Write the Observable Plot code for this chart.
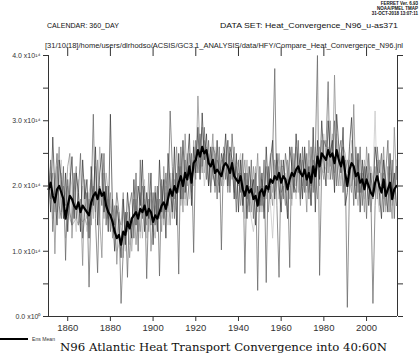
<!DOCTYPE html>
<html><head><meta charset="utf-8">
<script src="https://cdn.jsdelivr.net/npm/d3@7"></script>
<script src="https://cdn.jsdelivr.net/npm/@observablehq/plot@0.6"></script>
<style>html,body{margin:0;padding:0;background:#fff;} svg{display:block;}</style>
</head><body><div id="chart"></div>
<script>
// Years 1851..2014, values in units of 10^14 W
const startYear = 1851;

const ensMean = [
1.95,2.05,1.85,1.75,1.95,2.0,1.9,1.8,1.5,1.7,
1.85,1.8,1.7,1.65,1.75,1.6,1.7,1.65,1.6,1.55,
1.75,1.85,1.9,1.8,1.95,1.85,1.9,1.7,1.6,1.55,
1.45,1.3,1.2,1.25,1.1,1.3,1.25,1.45,1.35,1.5,
1.55,1.6,1.5,1.65,1.6,1.7,1.55,1.65,1.6,1.45,
1.55,1.5,1.6,1.7,1.75,1.65,1.8,1.95,1.85,2.0,
1.9,2.05,2.15,2.0,2.2,2.1,2.3,2.05,2.35,2.4,
2.55,2.45,2.6,2.5,2.55,2.35,2.3,2.4,2.2,2.25,
2.2,2.15,2.3,2.35,2.3,2.2,2.35,2.15,2.1,2.05,
2.15,1.95,1.85,2.0,1.9,1.95,1.8,1.85,1.7,1.9,
1.95,1.85,2.0,1.95,2.1,2.05,2.15,2.1,2.2,2.05,
2.15,2.1,1.95,2.1,2.2,2.15,2.25,2.3,2.2,2.15,
2.25,2.1,2.2,2.05,2.3,2.15,2.45,2.3,2.5,2.45,
2.4,2.55,2.45,2.5,2.35,2.55,2.4,2.3,2.45,2.2,
2.0,2.25,2.35,2.3,2.15,2.2,2.05,2.1,1.95,2.1,
2.0,1.9,1.85,2.05,2.15,2.0,1.9,2.1,1.85,1.95,
2.05,1.8,1.95,2.0];

const memberA = [
2.3,1.6,2.75,1.9,1.4,2.4,2.1,1.5,2.2,1.3,
2.0,2.45,1.5,2.2,1.9,1.3,2.4,1.8,2.1,1.2,
2.3,1.7,2.6,1.4,2.2,2.5,1.6,2.0,1.3,3.1,
1.6,1.0,1.7,1.4,0.9,1.8,1.1,1.9,1.5,1.2,
2.1,1.4,2.0,1.7,2.4,1.3,1.9,1.5,2.2,1.1,
1.9,1.3,2.4,1.6,2.1,1.2,2.5,2.0,1.6,2.6,
1.4,2.5,1.8,2.7,1.9,2.3,2.8,1.7,2.6,2.2,
2.9,2.1,3.12,2.4,2.8,2.0,2.6,2.2,2.0,2.7,
1.9,2.5,2.3,2.8,2.0,2.6,2.4,1.8,2.5,1.6,
2.4,1.7,2.2,1.5,2.3,1.9,2.1,1.4,2.0,1.7,
2.2,1.5,2.6,1.9,2.4,2.7,1.8,2.5,2.0,1.6,
2.4,2.0,1.5,2.6,2.3,1.9,2.8,2.2,2.5,1.8,
2.6,2.0,2.3,1.7,2.9,1.6,2.7,2.1,3.0,2.4,
2.0,3.0,2.5,2.7,1.9,3.1,2.6,2.2,2.9,1.7,
1.9,2.6,3.05,2.2,1.8,2.5,1.6,2.4,2.0,2.3,
1.7,2.2,1.8,2.6,2.3,1.9,1.5,2.4,2.0,1.6,
2.5,1.9,2.2,1.7];

const memberB = [
1.7,2.4,1.3,2.0,2.5,1.7,1.5,2.3,0.86,2.1,
1.6,1.4,2.2,1.5,1.9,2.5,1.2,1.6,1.9,0.45,
1.8,3.1,1.5,0.67,2.0,1.7,2.5,1.4,2.0,1.3,
1.8,1.4,1.9,1.6,0.2,1.0,1.6,0.6,1.7,1.9,
1.2,2.2,1.0,2.4,1.5,2.0,0.58,1.8,1.4,1.9,
1.4,2.0,0.62,2.1,1.5,2.2,1.7,3.15,2.3,1.5,
2.2,0.65,2.6,1.8,2.4,1.7,2.1,2.5,0.98,2.7,
2.2,2.8,2.3,2.9,2.1,2.7,1.9,2.6,2.5,1.8,
2.6,1.02,2.5,2.1,2.7,1.9,2.8,2.3,1.6,2.4,
1.9,2.5,0.66,2.2,1.6,2.4,1.5,2.2,0.4,2.3,
1.7,2.4,0.52,2.3,1.8,2.5,3.8,1.7,0.6,2.4,
1.8,2.5,2.2,0.75,2.6,2.0,1.9,2.7,1.8,2.6,
1.9,2.5,1.8,2.6,1.9,2.5,4.0,0.63,2.3,2.7,
2.6,3.6,2.1,2.4,3.0,2.0,2.5,2.7,1.9,2.4,
0.14,2.0,2.5,1.7,2.6,1.9,2.6,1.7,2.3,1.5,
2.5,1.9,0.2,1.7,2.6,2.2,2.5,1.6,2.2,2.7,
1.6,2.4,1.5,2.3];

const memberC = [
2.0,1.8,2.2,0.96,2.1,2.6,1.6,2.0,1.7,2.3,
2.5,1.2,1.9,2.3,1.4,1.8,0.78,2.1,1.5,1.8,
1.4,2.0,1.6,2.4,1.5,0.9,2.2,1.9,1.5,1.9,
1.2,1.7,0.8,1.5,1.4,1.9,1.2,1.6,0.9,1.4,
1.8,1.1,1.6,1.3,2.0,1.7,1.4,2.2,1.0,1.6,
2.0,1.5,1.8,1.3,2.3,1.6,1.9,1.4,2.2,1.8,
2.6,1.9,2.3,1.6,2.8,2.0,2.5,1.9,2.4,2.1,
3.38,2.5,2.2,2.7,2.4,2.0,2.3,2.8,1.9,2.4,
2.3,2.0,2.6,2.4,1.9,2.5,2.1,2.6,1.8,2.2,
1.7,2.1,2.4,1.8,2.0,1.6,2.3,1.9,2.5,1.6,
2.1,1.8,2.3,1.6,2.0,1.7,2.4,2.1,2.5,1.9,
2.0,1.7,2.4,2.1,1.8,2.5,2.0,2.3,1.7,2.4,
2.2,1.6,2.7,2.0,2.4,2.2,1.8,2.6,2.3,2.1,
2.7,2.2,3.0,2.1,3.7,2.4,2.0,2.5,2.6,2.2,
2.4,2.1,1.9,3.25,2.0,2.4,1.9,2.2,1.6,2.6,
2.1,1.6,2.0,2.3,1.8,2.4,2.0,2.6,1.7,2.3,
1.9,1.5,2.9,2.1];

const memberD = [
1.8,2.2,1.9,1.6,2.3,1.5,2.2,1.6,1.9,2.0,
1.5,1.4,1.45,1.5,1.4,1.5,1.45,1.5,1.4,1.9,
2.1,1.5,2.3,1.8,2.6,2.1,1.5,2.2,1.9,1.7,
1.3,1.5,1.2,1.6,1.3,0.9,1.6,1.3,1.6,1.0,
1.5,1.8,1.3,1.9,1.2,1.8,1.6,1.3,1.9,1.4,
1.2,1.8,1.5,2.0,1.4,1.9,1.6,2.2,1.5,2.1,
1.9,2.3,1.7,2.1,1.8,2.5,2.2,1.8,2.7,2.3,
2.4,2.6,2.9,2.2,2.6,2.4,2.0,2.2,2.5,2.1,
2.0,2.4,2.1,2.5,2.7,2.0,2.4,1.9,2.3,2.0,
2.2,1.6,2.0,2.4,1.7,2.1,1.8,2.3,1.6,2.0,
1.6,2.0,1.8,2.2,2.5,1.9,2.2,2.4,1.8,2.3,
2.3,1.9,2.1,1.8,2.4,2.2,2.6,1.9,2.4,2.0,
2.5,2.2,1.9,2.3,2.1,2.6,2.3,2.0,2.7,2.2,
2.3,2.6,2.3,2.8,2.2,2.7,2.3,2.0,2.6,2.5,
2.2,2.4,2.0,2.3,2.0,1.7,2.2,1.9,2.4,2.1,
1.8,2.3,2.1,1.9,2.4,1.7,2.0,2.2,1.6,2.0,
2.2,1.7,2.0,2.3];

const memberE = [
2.0,2.3,1.5,2.2,1.6,2.0,2.4,1.7,1.2,1.5,
2.2,2.0,1.6,1.3,2.1,1.4,2.0,1.6,1.3,1.9,
1.6,1.9,2.4,1.8,1.4,2.2,1.7,1.5,1.8,1.4,
1.4,1.2,1.0,1.1,1.2,1.3,1.0,1.4,1.1,1.5,
1.4,1.7,1.6,1.2,1.7,2.1,1.2,1.5,1.8,1.3,
1.7,1.4,1.8,1.5,1.6,2.0,1.4,1.8,2.1,1.7,
1.6,2.2,2.0,1.9,1.7,2.3,1.8,2.4,2.0,2.6,
2.3,2.2,2.6,2.0,2.3,2.5,2.4,2.1,2.6,2.3,
2.1,2.3,2.0,2.2,2.1,2.3,2.2,2.0,2.4,2.3,
2.5,2.0,1.5,2.1,1.8,1.5,1.3,1.6,1.9,1.7,
2.0,1.6,1.9,2.1,1.7,1.2,1.9,2.0,2.3,1.8,
1.9,2.2,1.6,2.0,1.7,2.1,1.8,2.5,2.1,1.9,
2.1,1.9,2.4,1.7,2.2,1.9,2.5,2.2,2.4,2.8,
2.3,2.1,2.4,2.6,2.0,2.8,2.3,2.1,2.4,2.0,
2.0,2.3,2.7,2.1,2.2,2.5,1.9,2.3,1.8,2.1,
2.2,1.7,2.1,3.15,1.9,1.6,2.2,1.8,2.1,1.9,
2.3,2.0,1.8,2.4];

// drawn lightest first so darker members sit on top
const memberSeries = [memberE, memberD, memberC, memberB, memberA];
const memberNames = ["E", "D", "C", "B", "A"];
const memberColors = ["#c2c2c2", "#a4a4a4", "#858585", "#606060", "#333333"];

const xTicks = [1860, 1880, 1900, 1920, 1940, 1960, 1980, 2000];
const yTicks = [0, 0.5, 1, 1.5, 2, 2.5, 3, 3.5, 4];
const yTickLabels = ["0.0 x10⁰", "", "1.0 x10¹⁴", "", "2.0 x10¹⁴", "", "3.0 x10¹⁴", "", "4.0 x10¹⁴"];

const calendarText = "CALENDAR: 360_DAY";
const datasetText = "DATA SET: Heat_Convergence_N96_u-as371";
const pathText = "[31/10/18]/home/users/dlrhodso/ACSIS/GC3.1_ANALYSIS/data/HFY/Compare_Heat_Convergence_N96.jnl";
const stampLines = ["FERRET Ver. 6.93", "NOAA/PMEL TMAP", "31-OCT-2018 13:07:11"];
const legendLabel = "Ens Mean";
const titleText = "N96 Atlantic Heat Transport Convergence into 40:60N";

// checks
[ensMean, ...memberSeries].forEach((s, i) => {
  if (s.length !== 164) throw new Error("series " + i + " has length " + s.length);
});

const memberRows = memberSeries.flatMap((s, i) =>
  s.map((v, j) => ({year: startYear + j, value: v, member: memberNames[i]})));
const meanRows = ensMean.map((v, j) => ({year: startYear + j, value: v}));

const xMin = 1851, xMax = 2014.5;

const chart = Plot.plot({
  width: 420,
  height: 354,
  marginLeft: 48,
  marginRight: 23,
  marginTop: 55,
  marginBottom: 38,
  style: {background: "#fff", fontFamily: "Liberation Sans, Arial, sans-serif", overflow: "visible"},
  x: {domain: [xMin, xMax], label: null},
  y: {domain: [0, 4], label: null},
  color: {domain: memberNames, range: memberColors},
  marks: [
    Plot.line(memberRows, {x: "year", y: "value", z: "member", stroke: "member", strokeWidth: 0.7}),
    Plot.line(meanRows, {x: "year", y: "value", stroke: "#000", strokeWidth: 2.2}),
    Plot.ruleX([xMin, xMax], {stroke: "#333", strokeWidth: 1}),
    Plot.ruleY([0], {stroke: "#333", strokeWidth: 1}),
    Plot.axisX({anchor: "bottom", ticks: xTicks, tickSize: 5, tickPadding: 3, fontSize: 9.5, tickFormat: d => String(d), stroke: "#333", fill: "#333"}),
    Plot.axisX({anchor: "top", ticks: xTicks, tickSize: 9, tickFormat: () => "", stroke: "#333"}),
    Plot.axisY({anchor: "left", ticks: yTicks, tickSize: 5, tickPadding: 3, fontSize: 7, tickFormat: d => yTickLabels[yTicks.indexOf(d)], stroke: "#333", fill: "#333"}),
    Plot.axisY({anchor: "right", ticks: yTicks, tickSize: 5, tickFormat: () => "", stroke: "#333"})
  ]
});
document.getElementById("chart").appendChild(chart);

const svg = d3.select(chart);
function addText(x, y, str, size, opts = {}) {
  const t = svg.append("text")
    .attr("x", x).attr("y", y)
    .attr("font-size", size)
    .attr("font-family", opts.family || "Liberation Sans, Arial, sans-serif")
    .attr("fill", opts.fill || "#111")
    .attr("text-anchor", opts.anchor || "start")
    .text(str);
  if (opts.len) t.attr("textLength", opts.len).attr("lengthAdjust", "spacingAndGlyphs");
  if (opts.weight) t.attr("font-weight", opts.weight);
  return t;
}
addText(47, 28, calendarText, 8, {len: 72});
addText(220, 28, datasetText, 8, {len: 178});
addText(45, 48, pathText, 7, {len: 358, fill: "#222"});
stampLines.forEach((s, i) => addText(418, 5 + i * 5, s, 4.5, {anchor: "end", weight: "bold"}));
svg.append("line").attr("x1", 0).attr("x2", 28).attr("y1", 339).attr("y2", 339)
  .attr("stroke", "#000").attr("stroke-width", 2);
addText(32, 341, legendLabel, 5, {len: 23, fill: "#333"});
addText(60, 351, titleText, 11.5, {family: "DejaVu Serif, Liberation Serif, serif", len: 327});
</script>
</body></html>
